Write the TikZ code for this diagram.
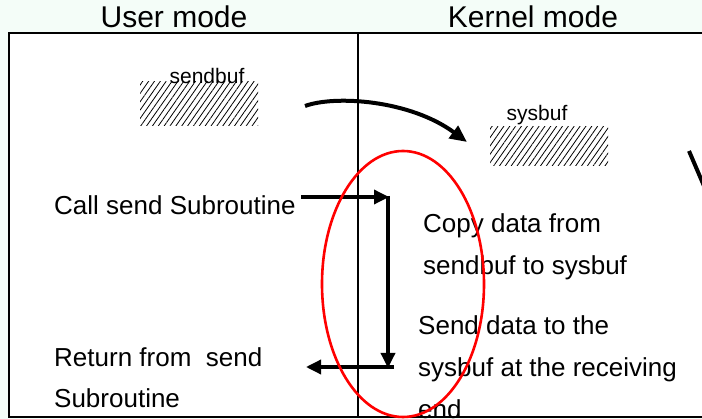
\documentclass[tikz,border=0pt]{standalone}
\usepackage{fontspec}
\setmainfont{Liberation Sans}
\usetikzlibrary{arrows.meta,patterns.meta,shapes.geometric}
\definecolor{bgmint}{RGB}{244,253,248}
\definecolor{ovalred}{RGB}{255,0,0}
\begin{document}
\begin{tikzpicture}[x=1pt,y=-1pt,
  title/.style={anchor=base,inner sep=0pt,font=\fontsize{30}{34}\selectfont},
  body/.style={anchor=base west,inner sep=0pt,font=\fontsize{26}{30}\selectfont},
  small/.style={anchor=base,inner sep=0pt,font=\fontsize{21}{25}\selectfont},
  hatch/.style={pattern={Lines[angle=55,distance=4.8pt,line width=0.8pt]}},
  flow/.style={line width=3.4pt,-{Triangle[length=15pt,width=14pt]}},
  frame/.style={line width=1.6pt},
]
\useasboundingbox (0,0) rectangle (702,419);
\fill[bgmint] (0,0) rectangle (702,419);
\clip (0,0) rectangle (702,419);
\fill[white] (9,33) rectangle (712,417);

% titles
\node[title] (user) at (174,28) {User mode};
\node[title] (kernel) at (533,28) {Kernel mode};

% buffers
\fill[hatch] (140,82) rectangle (258,126);
\node[small] (sendbuf) at (207,84) {sendbuf};
\fill[hatch] (490,127) rectangle (608,166);
\node[small] (sysbuf) at (537,121) {sysbuf};

% texts
\node[body] (call) at (54,215) {Call send Subroutine};
\node[body] (ret1) at (54,367) {Return from~ send};
\node[body] (ret2) at (54,408) {Subroutine};
\node[body] (copy1) at (423,233) {Copy data from};
\node[body] (copy2) at (423,275) {sendbuf to sysbuf};
\node[body] (send1) at (418,335) {Send data to the};
\node[body] (send2) at (418,377) {sysbuf at the receiving};
\node[body] (send3) at (418,419) {end};

% frame
\draw[frame] (712,33) -- (9,33) -- (9,417) -- (712,417);
\draw[frame] (358,33) -- (358,417);

% connectors
\coordinate (cstart) at (301,197);
\coordinate (ccorner) at (389,197);
\coordinate (cbottom) at (388,368);
\coordinate (rstart) at (394,367);
\coordinate (rend) at (306,367);
\draw[flow] (cstart) -- (ccorner);
\draw[flow] (388,196) -- (cbottom);
\draw[flow] (rstart) -- (rend);

\coordinate (arcstart) at (305,106);
\coordinate (arcend) at (467,142);
\draw[line width=4pt,-{Triangle[length=17pt,width=15pt]}] (arcstart) .. controls (335,95) and (410,100) .. (arcend);

% partial glyph at right edge
\draw[line width=4pt] (689,151) -- (704,186);

% red oval
\node[draw=ovalred,line width=2.6pt,ellipse,minimum width=162pt,minimum height=266pt,inner sep=0pt] (oval) at (403,284) {};
\end{tikzpicture}
\end{document}
